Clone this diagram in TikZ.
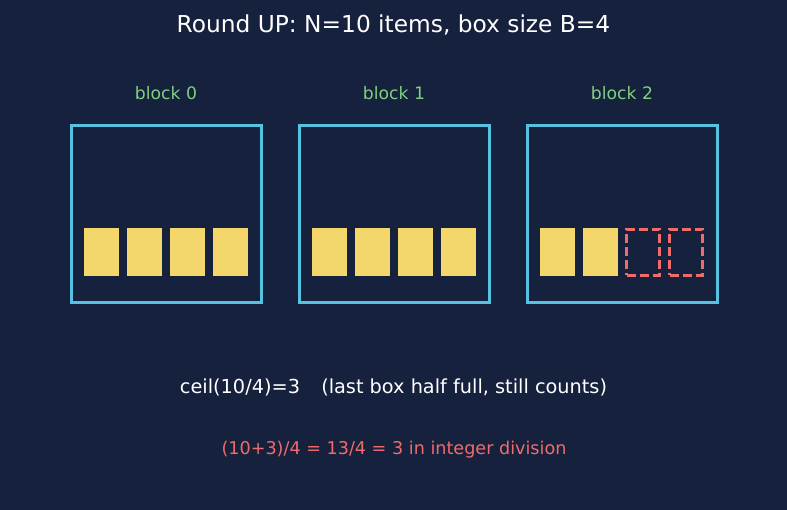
\documentclass[tikz,border=0pt]{standalone}
\usepackage{fontspec}
\setmainfont{DejaVu Sans}
\definecolor{bg}{HTML}{16213E}
\definecolor{cyanb}{HTML}{56C1E0}
\definecolor{itemy}{HTML}{F4D76C}
\definecolor{redd}{HTML}{F06B6B}
\definecolor{greent}{HTML}{7FD07F}
\begin{document}
\begin{tikzpicture}[x=1pt,y=-1pt,
  blockbox/.style={draw=cyanb, line width=3pt, minimum width=190pt, minimum height=177pt, inner sep=0pt},
  item/.style={fill=itemy, minimum width=35pt, minimum height=48pt, inner sep=0pt},
  emptyitem/.style={draw=redd, line width=2.3pt, dash pattern=on 9pt off 4pt, minimum width=33pt, minimum height=46pt, inner sep=0pt},
  blabel/.style={text=greent, font=\fontsize{17.2}{20}\selectfont},
  titletext/.style={text=white, font=\fontsize{23.3}{28}\selectfont},
  note/.style={text=white, font=\fontsize{19.3}{23}\selectfont},
  rednote/.style={text=redd, font=\fontsize{17.6}{21}\selectfont}]
\fill[bg] (0,0) rectangle (787,510);
\useasboundingbox (0,0) rectangle (787,510);
\node[titletext] (title) at (393.5,25) {Round UP: N=10 items, box size B=4};
\foreach \i/\cx in {0/166,1/394,2/622}{
  \node[blabel] (lab\i) at (\cx,93) {block \i};
  \node[blockbox] (blk\i) at (\cx,214.5) {};
}
\foreach \k/\dx in {0/-64.5,1/-21.5,2/21.5,3/64.5}{
  \node[item] (a\k) at (166+\dx,252) {};
  \node[item] (b\k) at (394+\dx,252) {};
}
\node[item] (c0) at (557.5,252.5) {};
\node[item] (c1) at (600.5,252.5) {};
\node[emptyitem] (c2) at (643,252.5) {};
\node[emptyitem] (c3) at (686,252.5) {};
\node[note] (n1) at (393.5,387) {ceil(10/4)=3\hspace{1.1em}(last box half full, still counts)};
\node[rednote] (n2) at (394,450) {(10+3)/4 = 13/4 = 3 in integer division};
\end{tikzpicture}
\end{document}
